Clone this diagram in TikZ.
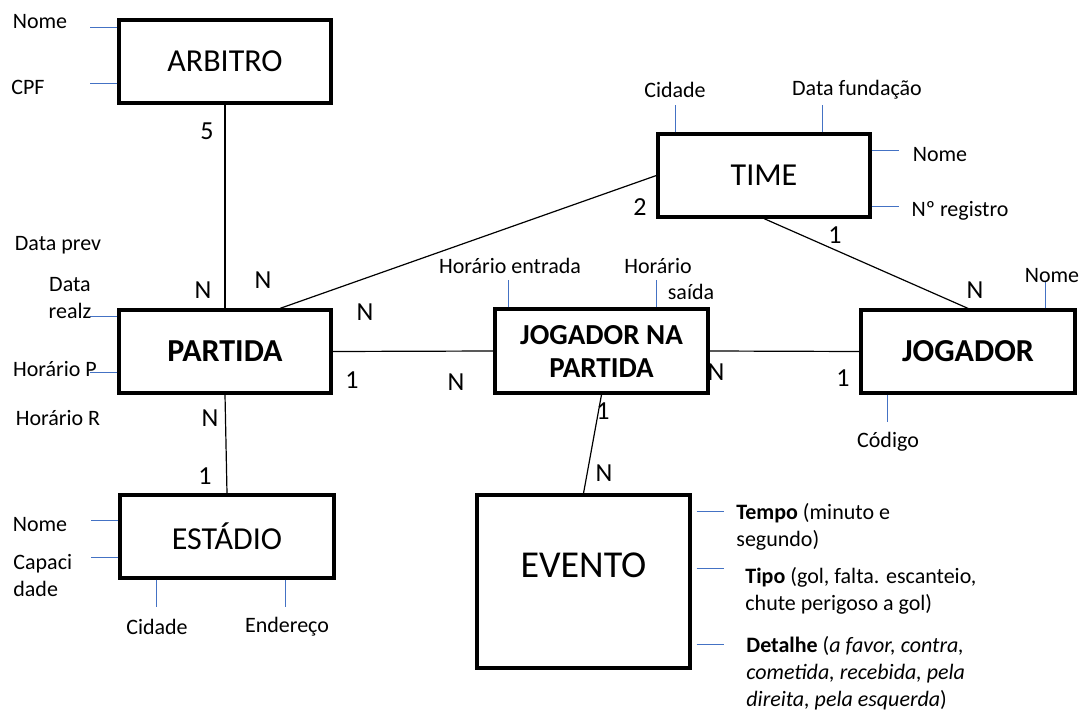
\documentclass[tikz,border=0pt]{standalone}
\usepackage{fontspec}
\setmainfont{Carlito}
\usetikzlibrary{calc}
\definecolor{attrblue}{RGB}{68,114,196}
\tikzset{
  ent/.style={draw, line width=1.6pt, rectangle, inner sep=0pt, minimum width=106pt, minimum height=41.5pt, font=\fontsize{16}{19}\selectfont},
  entb/.style={ent, font=\fontsize{16}{19}\selectfont\bfseries},
  rel/.style={line width=0.6pt, black},
  attr/.style={line width=0.6pt, attrblue},
  lbl/.style={inner sep=0pt, font=\fontsize{11}{13.5}\selectfont},
  card/.style={inner sep=0pt, font=\fontsize{13}{15}\selectfont},
}
\begin{document}
\begin{tikzpicture}[x=0.5pt, y=-0.5pt]
\useasboundingbox (0,0) rectangle (1080,711);
% entities
\node[ent] (arbitro) at (225,61.5) {ARBITRO};
\node[entb] (partida) at (225,351.5) {PARTIDA};
\node[ent, minimum width=107pt] (estadio) at (227,536.5) {ESTÁDIO};
\node[entb, minimum width=106.5pt, minimum height=42pt, align=center, font=\fontsize{14.5}{16.5}\selectfont\bfseries] (jpartida) at (601.5,351) {JOGADOR NA\\PARTIDA};
\node[ent] (time) at (764,175.5) {TIME};
\node[entb, minimum width=107pt] (jogador) at (968,351.5) {JOGADOR};
\node[ent, minimum width=106.5pt, minimum height=86.5pt,
  label={[yshift=8pt, font=\fontsize{19}{22}\selectfont]center:EVENTO}] (evento) at (583.5,581.5) {};
% relationships
\draw[rel] (arbitro.south) -- (partida.north);
\draw[rel] (partida.south) -- (estadio.north);
\draw[rel] (partida.east) -- (jpartida.west);
\draw[rel] ($(partida.north)+(55,0)$) -- (time.west);
\draw[rel] (time.south) -- (jogador.north);
\draw[rel] (jpartida.east) -- (jogador.west);
\draw[rel] (jpartida.south) -- (evento.north);
% cardinalities
\node[card] (c5) at (207,131) {5};
\node[card] (cpa1) at (203,290) {N};
\node[card] (cpa2) at (263,280) {N};
\node[card] (cpa3) at (210,418) {N};
\node[card] (ces1) at (205,476) {1};
\node[card] (cpa4) at (365,312) {N};
\node[card] (cpa5) at (352,380) {1};
\node[card] (cjp1) at (456,382) {N};
\node[card] (cjp2) at (716,372) {N};
\node[card] (cjg1) at (843,378) {1};
\node[card] (cjp3) at (603,411) {1};
\node[card] (cev1) at (604,473) {N};
\node[card] (ctm1) at (640,207) {2};
\node[card] (ctm2) at (835,235) {1};
\node[card] (cjg2) at (975,290) {N};
% ARBITRO attributes
\draw[attr] ($(arbitro.north west)+(0,9)$) -- ++(-27,0);
\draw[attr] ($(arbitro.north west)+(0,65)$) -- ++(-27,0);
\node[lbl] (a1) at (40,22) {Nome};
\node[lbl] (a2) at (28,87) {CPF};
% PARTIDA attributes
\draw[attr] ($(partida.north west)+(0,8)$) -- ++(-27,0);
\draw[attr] ($(partida.north west)+(0,64)$) -- ++(-27,0);
\node[lbl] (p1) at (58,245) {Data prev};
\node[lbl, align=center] (p2) at (70,298.5) {Data\\realz};
\node[lbl] (p3) at (55,369) {Horário P};
\node[lbl] (p4) at (58,418) {Horário R};
% ESTADIO attributes
\draw[attr] ($(estadio.north west)+(0,27)$) -- ++(-27,0);
\draw[attr] ($(estadio.north west)+(0,64)$) -- ++(-27,0);
\draw[attr] ($(estadio.south west)+(38,0)$) -- ++(0,27);
\draw[attr] ($(estadio.south west)+(167,0)$) -- ++(0,27);
\node[lbl] (e1) at (40,525) {Nome};
\node[lbl, align=left, anchor=west] (e2) at (13,576) {Capaci\\dade};
\node[lbl] (e3) at (157,627) {Cidade};
\node[lbl] (e4) at (287,627) {Endereço};
% JOGADOR NA PARTIDA attributes
\draw[attr] ($(jpartida.north west)+(15,0)$) -- ++(0,-27);
\draw[attr] ($(jpartida.north west)+(163,0)$) -- ++(0,-27);
\node[lbl] (j1) at (510,266) {Horário entrada};
\node[lbl] (j2) at (658,266) {Horário};
\node[lbl] (j3) at (691,292) {saída};
% TIME attributes
\draw[attr] ($(time.north west)+(19,0)$) -- ++(0,-27);
\draw[attr] ($(time.north west)+(166,0)$) -- ++(0,-27);
\draw[attr] ($(time.north east)+(0,18)$) -- ++(27,0);
\draw[attr] ($(time.north east)+(0,74)$) -- ++(27,0);
\node[lbl] (t1) at (675,90) {Cidade};
\node[lbl] (t2) at (857,90) {Data fundação};
\node[lbl] (t3) at (940,155) {Nome};
\node[lbl] (t4) at (960,211) {Nº registro};
% JOGADOR attributes
\draw[attr] ($(jogador.north west)+(186,0)$) -- ++(0,-27);
\draw[attr] ($(jogador.south west)+(28,0)$) -- ++(0,27);
\node[lbl] (g1) at (1052,276) {Nome};
\node[lbl] (g2) at (888,442) {Código};
% EVENTO attributes
\draw[attr] ($(evento.north east)+(5,18)$) -- ++(27,0);
\draw[attr] ($(evento.north east)+(5,75)$) -- ++(27,0);
\draw[attr] ($(evento.north east)+(5,151)$) -- ++(27,0);
\node[lbl, align=left, anchor=north west] (v1) at (736,503) {\textbf{Tempo} (minuto e\\segundo)};
\node[lbl, align=left, anchor=north west] (v2) at (745,567) {\textbf{Tipo} (gol, falta. escanteio,\\chute perigoso a gol)};
\node[lbl, align=left, anchor=north west] (v3) at (746,636) {\textbf{Detalhe} (\textit{a favor, contra,}\\\textit{cometida, recebida, pela}\\\textit{direita, pela esquerda})};
\end{tikzpicture}
\end{document}
